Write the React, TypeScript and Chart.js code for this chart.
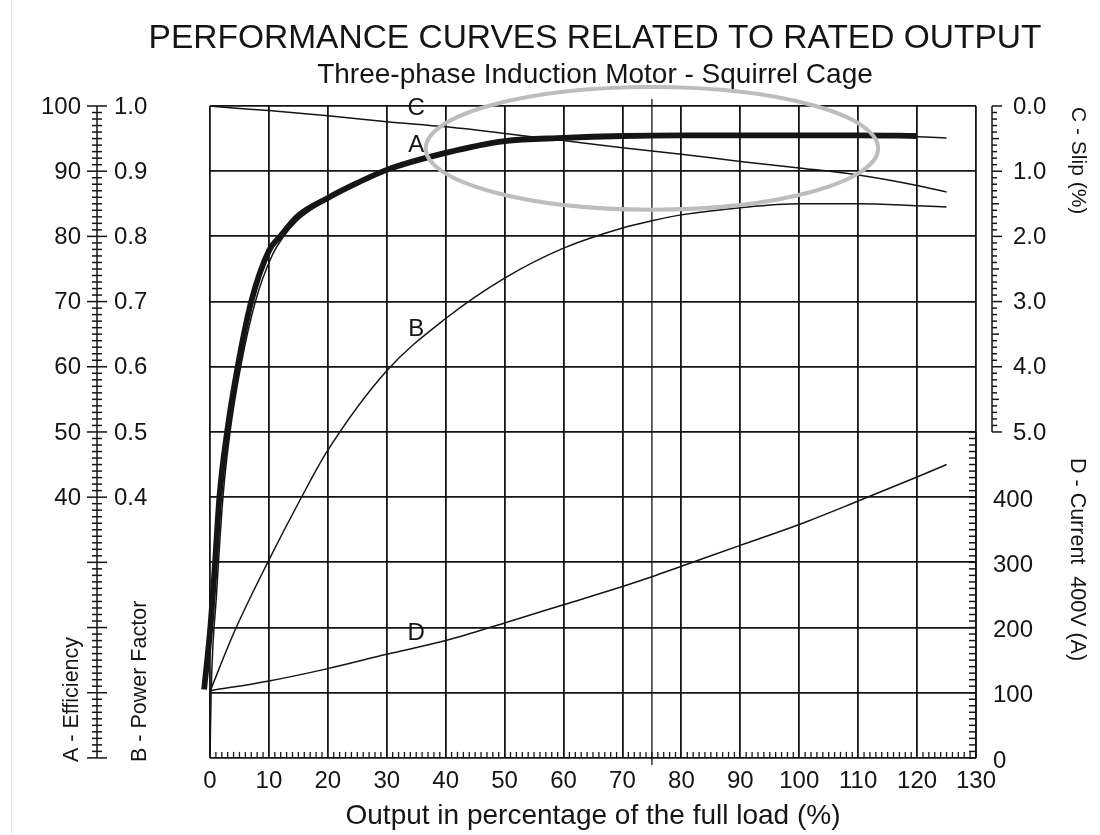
import React, { useEffect, useRef } from "react";
import { Chart, registerables } from "chart.js";

Chart.register(...registerables);

const FONT = '"Liberation Sans", Arial, Helvetica, sans-serif';
const INK = "#151515";

// ---- data (x = output in % of full load) ----
// A - Efficiency (%), thick hand-drawn overlay
const effThickX = [-1.0, 0.06, 0.86, 1.6, 2.9, 4.7, 7.0, 10, 11.9, 15, 20, 25, 30, 40, 50, 60, 70, 80, 90, 100, 110, 120];
const effThickY = [10.5, 20, 30, 40, 50, 60, 70, 77.8, 80, 83.2, 85.9, 88.2, 90.2, 92.8, 94.6, 95.1, 95.4, 95.5, 95.5, 95.5, 95.5, 95.4];
// A - Efficiency (%), thin original curve
const effThinX = [0, 0.2, 1.1, 2.2, 3.4, 5.2, 7.7, 10.5, 12.5, 15, 20, 25, 30, 40, 50, 60, 70, 80, 90, 100, 110, 120, 125];
const effThinY = [0, 10.2, 25, 40, 50, 60, 70, 77, 80, 82.6, 85.7, 88.2, 90.2, 92.8, 94.6, 95.1, 95.4, 95.5, 95.5, 95.5, 95.4, 95.3, 95.1];
// B - Power factor (x100)
const pfX = [0, 4.2, 9.8, 15.3, 20, 30, 40, 50, 60, 70, 75, 80, 90, 100, 110, 120, 125];
const pfY = [10.2, 19.5, 30, 39.6, 47.2, 59.4, 67.4, 73.6, 78.2, 81.3, 82.4, 83.3, 84.4, 85.0, 85.0, 84.7, 84.5];
// C - Slip (%)
const slipX = [0, 4, 10, 20, 30, 40, 50, 60, 70, 80, 90, 100, 110, 120, 125];
const slipY = [0, 0.03, 0.07, 0.15, 0.24, 0.32, 0.42, 0.53, 0.64, 0.74, 0.85, 0.95, 1.06, 1.22, 1.32];
// D - Current 400V (A)
const currentX = [0, 10, 20, 30, 40, 50, 60, 70, 75, 80, 90, 100, 110, 120, 125];
const currentY = [103, 118, 137, 159, 180, 207, 235, 263, 278, 294, 326, 358, 394, 431, 450];

// ---- tick labels ----
const efficiencyTicks = [100, 90, 80, 70, 60, 50, 40];
const powerFactorTicks = ["1.0", "0.9", "0.8", "0.7", "0.6", "0.5", "0.4"];
const slipTicks = [0, 1, 2, 3, 4, 5];
const currentTicks = [0, 100, 200, 300, 400];

// curve letters (placed in data coordinates of the left scale)
const curveLetters: [string, number, number][] = [
  ["C", 35, 99.6],
  ["A", 35, 93.9],
  ["B", 35, 65.8],
  ["D", 35, 19.1],
];

const zip = (xs: number[], ys: number[]) => xs.map((x, i) => ({ x, y: ys[i] }));

function line(ctx: CanvasRenderingContext2D, x1: number, y1: number, x2: number, y2: number) {
  ctx.beginPath();
  ctx.moveTo(x1, y1);
  ctx.lineTo(x2, y2);
  ctx.stroke();
}

function rotatedText(ctx: CanvasRenderingContext2D, text: string, x: number, y: number, angle: number, size: number) {
  ctx.save();
  ctx.translate(x, y);
  ctx.rotate(angle);
  ctx.font = `${size}px ${FONT}`;
  ctx.textAlign = "left";
  ctx.textBaseline = "middle";
  ctx.fillText(text, 0, 0);
  ctx.restore();
}

const decor = {
  id: "decor",
  beforeDatasetsDraw(chart: any) {
    const { ctx, chartArea: ca, scales } = chart;
    const xs = scales.x;
    const y = scales.y;
    const yC = scales.yC;
    const yD = scales.yD;
    ctx.save();
    ctx.strokeStyle = INK;
    ctx.fillStyle = INK;

    // faint page edge
    ctx.save();
    ctx.strokeStyle = "#e4e4e4";
    ctx.lineWidth = 1;
    line(ctx, 11.5, 0, 11.5, 835);
    ctx.restore();

    // 75 % marker line
    ctx.lineWidth = 1.3;
    const x75 = xs.getPixelForValue(75);
    line(ctx, x75, ca.top - 7, x75, ca.bottom + 7);

    // minor ticks along the bottom axis
    ctx.lineWidth = 1.3;
    for (let v = 0; v <= 130; v++) {
      if (v % 10 === 0) continue;
      const px = xs.getPixelForValue(v);
      line(ctx, px, ca.bottom, px, ca.bottom - 6);
    }

    // left ruler (efficiency / power factor)
    const rx = 97;
    ctx.lineWidth = 1.5;
    line(ctx, rx, y.getPixelForValue(100), rx, y.getPixelForValue(0));
    for (let v = 0; v <= 100; v++) {
      const py = y.getPixelForValue(v);
      const len = v % 10 === 0 ? 10 : 5;
      line(ctx, rx - len, py, rx + len, py);
    }
    ctx.font = `24px ${FONT}`;
    ctx.textBaseline = "middle";
    efficiencyTicks.forEach((v, i) => {
      const py = y.getPixelForValue(v) + 1;
      ctx.textAlign = "right";
      ctx.fillText(String(v), 81, py);
      ctx.textAlign = "left";
      ctx.fillText(powerFactorTicks[i], 114, py);
    });

    // right ruler: slip
    const sx = ca.right + 16;
    line(ctx, sx, yC.getPixelForValue(0), sx, yC.getPixelForValue(5));
    for (let i = 0; i <= 50; i++) {
      const py = yC.getPixelForValue(i / 10);
      const len = i % 10 === 0 ? 10 : i % 5 === 0 ? 7 : 5;
      line(ctx, sx, py, sx + len, py);
    }
    ctx.textAlign = "left";
    slipTicks.forEach((v) => {
      ctx.fillText(v.toFixed(1), 1013, yC.getPixelForValue(v) + 1);
    });

    // right ruler: current (on the plot edge, ticks inward)
    const dx = ca.right;
    line(ctx, dx, yD.getPixelForValue(0), dx, yD.getPixelForValue(500));
    for (let a = 0; a <= 500; a += 10) {
      const py = yD.getPixelForValue(a);
      line(ctx, dx - 7, py, dx, py);
    }
    currentTicks.forEach((v) => {
      ctx.fillText(String(v), 993, yD.getPixelForValue(v) + 3);
    });

    // axis titles
    rotatedText(ctx, "A - Efficiency", 72, 762, -Math.PI / 2, 21.5);
    rotatedText(ctx, "B - Power Factor", 140, 762, -Math.PI / 2, 21.5);
    rotatedText(ctx, "C - Slip (%)", 1078, 107, Math.PI / 2, 21);
    rotatedText(ctx, "D - Current  400V (A)", 1077, 458, Math.PI / 2, 21.5);

    // titles
    ctx.textAlign = "center";
    ctx.textBaseline = "middle";
    ctx.font = `33.5px ${FONT}`;
    ctx.fillText("PERFORMANCE CURVES RELATED TO RATED OUTPUT", 595, 39);
    ctx.font = `28px ${FONT}`;
    ctx.fillText("Three-phase Induction Motor - Squirrel Cage", 595, 75);

    // curve letters
    ctx.font = `24px ${FONT}`;
    curveLetters.forEach(([t, vx, vy]) => {
      ctx.fillText(t, xs.getPixelForValue(vx), y.getPixelForValue(vy));
    });
    ctx.restore();
  },
  afterDatasetsDraw(chart: any) {
    const { ctx, scales } = chart;
    const xs = scales.x;
    const y = scales.y;
    const cx = xs.getPixelForValue(75);
    const cy = y.getPixelForValue(93.5);
    const rxp = xs.getPixelForValue(75 + 38.4) - cx;
    const ryp = y.getPixelForValue(93.5 - 9.4) - cy;
    ctx.save();
    ctx.strokeStyle = "#bdbdbd";
    ctx.lineWidth = 4;
    ctx.beginPath();
    ctx.ellipse(cx, cy, Math.abs(rxp), Math.abs(ryp), 0, 0, Math.PI * 2);
    ctx.stroke();
    ctx.restore();
  },
};

export default function App() {
  const ref = useRef<HTMLCanvasElement>(null);
  useEffect(() => {
    const canvas = ref.current!;
    const common = {
      pointRadius: 0,
      cubicInterpolationMode: "monotone" as const,
      borderColor: INK,
      fill: false,
    };
    const chart = new Chart(canvas, {
      type: "line",
      data: {
        datasets: [
          { ...common, label: "A - Efficiency", data: zip(effThickX, effThickY), borderWidth: 5.8, yAxisID: "y", clip: false },
          { ...common, label: "A (thin)", data: zip(effThinX, effThinY), borderWidth: 1.5, yAxisID: "y" },
          { ...common, label: "B - Power Factor", data: zip(pfX, pfY), borderWidth: 1.5, yAxisID: "y" },
          { ...common, label: "C - Slip", data: zip(slipX, slipY), borderWidth: 1.5, yAxisID: "yC" },
          { ...common, label: "D - Current", data: zip(currentX, currentY), borderWidth: 1.5, yAxisID: "yD" },
        ],
      },
      options: {
        responsive: false,
        animation: false,
        devicePixelRatio: 1,
        layout: { padding: { left: 210, right: 124, top: 106, bottom: 7 } },
        plugins: { legend: { display: false }, tooltip: { enabled: false } },
        scales: {
          x: {
            type: "linear",
            min: 0,
            max: 130,
            position: "bottom",
            ticks: { stepSize: 10, autoSkip: false, maxRotation: 0, padding: 8.6, color: INK, font: { family: FONT, size: 24 } },
            grid: { color: INK, lineWidth: 1.8, drawTicks: false },
            border: { display: false },
            title: {
              display: true,
              text: "Output in percentage of the full load (%)",
              color: INK,
              font: { family: FONT, size: 28, lineHeight: 0.86 },
              padding: { top: 0, bottom: 0 },
            },
          },
          y: {
            type: "linear",
            min: 0,
            max: 100,
            position: "left",
            ticks: { display: false, stepSize: 10 },
            grid: { color: INK, lineWidth: 1.8, drawTicks: false },
            border: { display: false },
          },
          yC: { type: "linear", min: 0, max: 10, reverse: true, display: false },
          yD: { type: "linear", min: 0, max: 1000, display: false },
        },
      },
      plugins: [decor],
    });
    return () => chart.destroy();
  }, []);
  return (
    <div style={{ position: "fixed", left: 0, top: 0, width: 1100, height: 835, background: "#fff" }}>
      <canvas ref={ref} width={1100} height={835} style={{ display: "block", width: 1100, height: 835 }} />
    </div>
  );
}
